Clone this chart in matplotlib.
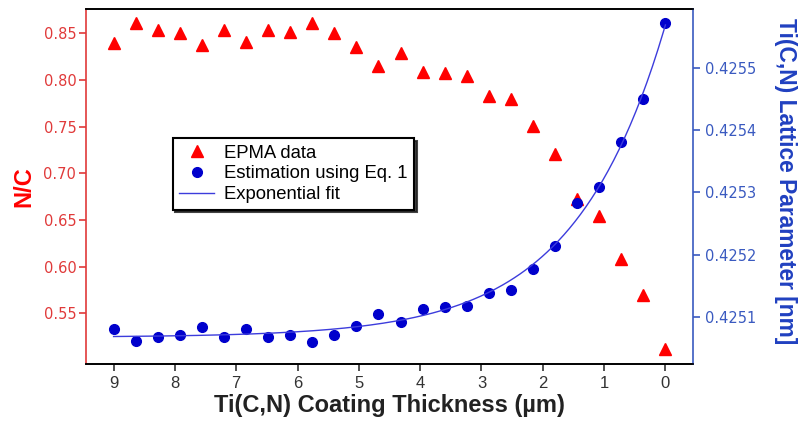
import numpy as np
import matplotlib
matplotlib.use("Agg")
import matplotlib.pyplot as plt

# Data
thickness = [9.0, 8.64, 8.28, 7.92, 7.56, 7.2, 6.84, 6.48, 6.12, 5.76, 5.4, 5.04, 4.68,
             4.32, 3.96, 3.6, 3.24, 2.88, 2.52, 2.16, 1.8, 1.44, 1.08, 0.72, 0.36, 0.0]
nc_epma = [0.840, 0.861, 0.853, 0.850, 0.837, 0.853, 0.841, 0.853, 0.851, 0.861, 0.850, 0.835, 0.815,
           0.829, 0.809, 0.807, 0.804, 0.783, 0.780, 0.751, 0.721, 0.672, 0.654, 0.608, 0.570, 0.512]
lattice = [0.425080, 0.425061, 0.425068, 0.425071, 0.425084, 0.425068, 0.425080, 0.425068, 0.425070,
           0.425060, 0.425070, 0.425085, 0.425105, 0.425092, 0.425112, 0.425115, 0.425117, 0.425139,
           0.425143, 0.425177, 0.425213, 0.425283, 0.425308, 0.425381, 0.425450, 0.425572]

x = np.array(thickness)
y = np.array(lattice)

# exponential fit y = y0 + A*exp(-x/tau), tau by grid search, y0/A by least squares
best = None
for tau in np.linspace(0.5, 4.0, 701):
    M = np.column_stack([np.ones_like(x), np.exp(-x / tau)])
    coef, res, _, _ = np.linalg.lstsq(M, y, rcond=None)
    err = np.sum((M @ coef - y) ** 2)
    if best is None or err < best[0]:
        best = (err, tau, coef)
_, tau, (y0, A) = best
x_fit = np.linspace(x.max(), x.min(), 300)
y_fit = y0 + A * np.exp(-x_fit / tau)

red = "#ff0000"
blue = "#0000cc"
axis_red = "#e03a3a"
axis_blue = "#3a5ac0"
ytick_font = "DejaVu Sans"
text_font = "Liberation Sans"

fig = plt.figure(figsize=(7.99, 4.25), dpi=100)
ax = fig.add_axes([86 / 799, 1 - 364 / 425, (693 - 86) / 799, (364 - 9) / 425])
ax2 = ax.twinx()

l1, = ax.plot(x, nc_epma, "^", color=red, ms=8, mec=red, label="EPMA data")
l2, = ax2.plot(x, y, "o", color=blue, ms=7, mec=blue, label="Estimation using Eq. 1")
l3, = ax2.plot(x_fit, y_fit, "-", color="#3c3cdc", lw=1.0, label="Exponential fit")

ax.set_xlim(9.45, -0.45)
ax.set_ylim(0.4957, 0.876)
ax2.set_ylim(0.425024, 0.425595)

ax.set_xticks(range(9, -1, -1))
ax.set_yticks([0.55, 0.60, 0.65, 0.70, 0.75, 0.80, 0.85])
ax2.set_yticks([0.4251, 0.4252, 0.4253, 0.4254, 0.4255])
ax.set_yticklabels([f"{v:.2f}" for v in ax.get_yticks()], family=ytick_font, fontsize=10.5, color=axis_red)
ax2.set_yticklabels([f"{v:.4f}" for v in ax2.get_yticks()], family=ytick_font, fontsize=10.5, color=axis_blue)
ax.set_xticklabels([str(v) for v in range(9, -1, -1)], family=text_font, fontsize=12, color="#333333")

ax.tick_params(axis="y", colors=axis_red, length=5, width=1.2, direction="out", pad=2)
ax.tick_params(axis="y", labelcolor=axis_red)
ax2.tick_params(axis="y", colors=axis_blue, length=5, width=1.2, direction="out", pad=4)
ax.tick_params(axis="x", colors="#333333", length=5, width=1.2, direction="out", pad=4)

for a in (ax, ax2):
    for s in a.spines.values():
        s.set_linewidth(1.2)
ax.spines["left"].set_color(axis_red)
ax2.spines["left"].set_visible(False)
ax.spines["right"].set_visible(False)
ax2.spines["right"].set_color(axis_blue)
for a in (ax, ax2):
    a.spines["top"].set_color("black")
    a.spines["bottom"].set_color("black")

ax.set_xlabel("Ti(C,N) Coating Thickness (\u00b5m)", family=text_font, fontsize=17,
              fontweight="bold", color="#222222", labelpad=2)
ax.set_ylabel("N/C", family=text_font, fontsize=17, fontweight="bold", color=red, labelpad=6)
ax2.set_ylabel("Ti(C,N) Lattice Parameter [nm]", family=text_font, fontsize=16.4,
               fontweight="bold", color="#2040c0", rotation=270)
ax2.yaxis.set_label_coords(1.172, 0.515)

leg = ax2.legend(handles=[l1, l2, l3], loc="upper left",
                 bbox_to_anchor=(172.7 / 799, 1 - 138.3 / 425), bbox_transform=fig.transFigure,
                 borderaxespad=0, fancybox=False, shadow={"color": "#222222", "alpha": 0.85},
                 framealpha=1, prop={"family": text_font, "size": 13.3},
                 handlelength=1.9, handletextpad=0.55, labelspacing=0.2, borderpad=0.35)
leg.get_frame().set_edgecolor("black")
leg.get_frame().set_linewidth(1.5)

fig.savefig("out.png", dpi=100)
